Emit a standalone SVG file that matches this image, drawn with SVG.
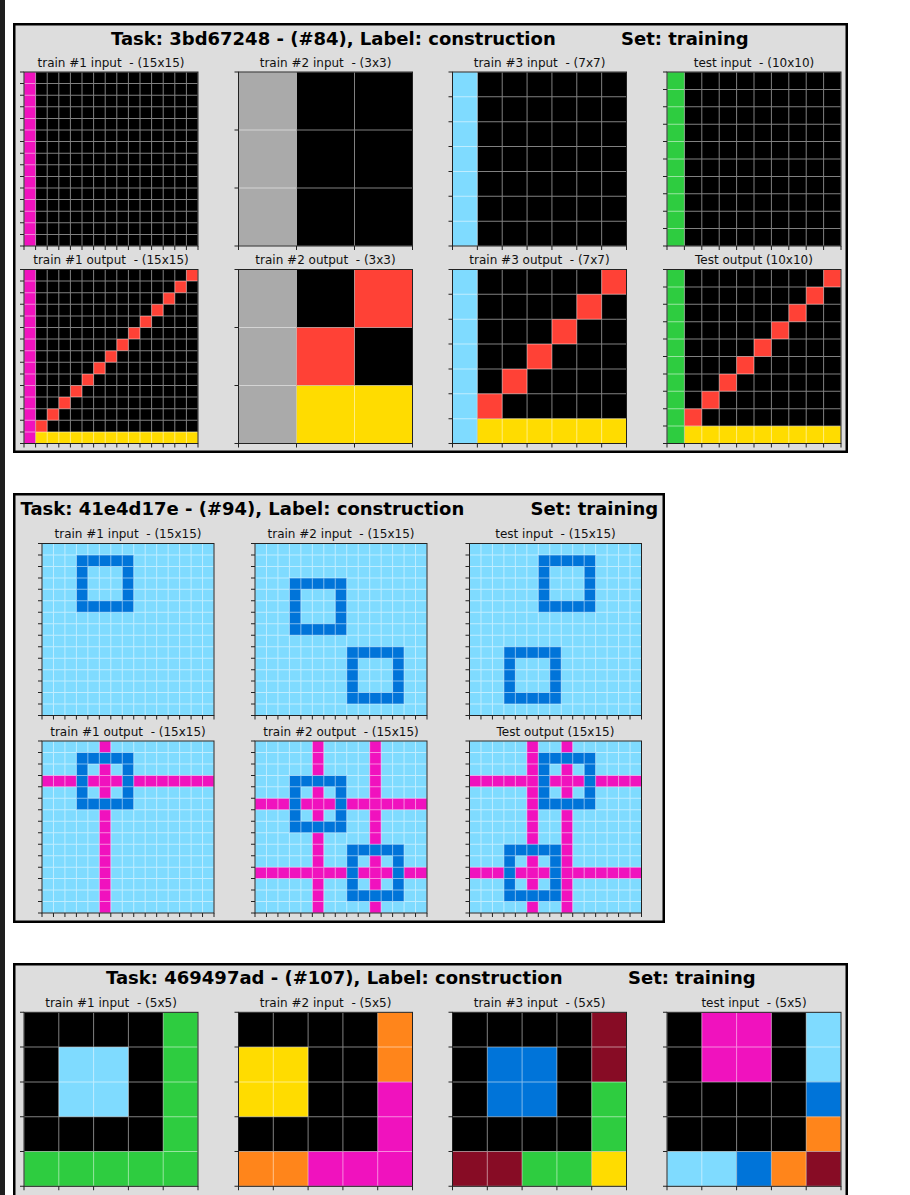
<svg xmlns="http://www.w3.org/2000/svg" xmlns:xlink="http://www.w3.org/1999/xlink" width="910" height="1195" viewBox="0 0 910 1195">
<style>
.k{fill:#000}.m{fill:#F012BE}.r{fill:#FF4136}.y{fill:#FFDC00}.g{fill:#AAAAAA}.c{fill:#7FDBFF}.gr{fill:#2ECC40}.b{fill:#0074D9}.o{fill:#FF851B}.mr{fill:#870C25}
.gl{opacity:.5}.gl line{stroke:#fff;fill:none}
.fr{fill:none;stroke:#222;stroke-width:1}
.tk{stroke:#222;stroke-width:4;fill:none}
.st{font-family:"DejaVu Sans","Liberation Sans",sans-serif;font-size:12px;fill:#111;text-anchor:middle;white-space:pre}
.tt{font-family:"DejaVu Sans","Liberation Sans",sans-serif;font-size:18px;font-weight:bold;fill:#000}
.pn{fill:#dddddd;stroke:#000;stroke-width:2.5}
</style>
<defs>
<g id="c174-15">
<g class="gl"><line x1="-0.5" y1="87" x2="174.5" y2="87" stroke-width="174" stroke-dasharray="1 10.6"/><line x1="87" y1="-0.5" x2="87" y2="174.5" stroke-width="174" stroke-dasharray="1 10.6"/></g>
<rect class="fr" width="174" height="174"/>
<line class="tk" x1="-2" y1="-0.5" x2="-2" y2="174.5" stroke-dasharray="1 10.6"/>
<line class="tk" x1="-0.5" y1="176" x2="174.5" y2="176" stroke-dasharray="1 10.6"/>
</g>
<g id="c174-3">
<g class="gl"><line x1="-0.5" y1="87" x2="174.5" y2="87" stroke-width="174" stroke-dasharray="1 57"/><line x1="87" y1="-0.5" x2="87" y2="174.5" stroke-width="174" stroke-dasharray="1 57"/></g>
<rect class="fr" width="174" height="174"/>
<line class="tk" x1="-2" y1="-0.5" x2="-2" y2="174.5" stroke-dasharray="1 57"/>
<line class="tk" x1="-0.5" y1="176" x2="174.5" y2="176" stroke-dasharray="1 57"/>
</g>
<g id="c174-7">
<g class="gl"><line x1="-0.5" y1="87" x2="174.5" y2="87" stroke-width="174" stroke-dasharray="1 23.857"/><line x1="87" y1="-0.5" x2="87" y2="174.5" stroke-width="174" stroke-dasharray="1 23.857"/></g>
<rect class="fr" width="174" height="174"/>
<line class="tk" x1="-2" y1="-0.5" x2="-2" y2="174.5" stroke-dasharray="1 23.857"/>
<line class="tk" x1="-0.5" y1="176" x2="174.5" y2="176" stroke-dasharray="1 23.857"/>
</g>
<g id="c174-10">
<g class="gl"><line x1="-0.5" y1="87" x2="174.5" y2="87" stroke-width="174" stroke-dasharray="1 16.4"/><line x1="87" y1="-0.5" x2="87" y2="174.5" stroke-width="174" stroke-dasharray="1 16.4"/></g>
<rect class="fr" width="174" height="174"/>
<line class="tk" x1="-2" y1="-0.5" x2="-2" y2="174.5" stroke-dasharray="1 16.4"/>
<line class="tk" x1="-0.5" y1="176" x2="174.5" y2="176" stroke-dasharray="1 16.4"/>
</g>
<g id="c174-5">
<g class="gl"><line x1="-0.5" y1="87" x2="174.5" y2="87" stroke-width="174" stroke-dasharray="1 33.8"/><line x1="87" y1="-0.5" x2="87" y2="174.5" stroke-width="174" stroke-dasharray="1 33.8"/></g>
<rect class="fr" width="174" height="174"/>
<line class="tk" x1="-2" y1="-0.5" x2="-2" y2="174.5" stroke-dasharray="1 33.8"/>
<line class="tk" x1="-0.5" y1="176" x2="174.5" y2="176" stroke-dasharray="1 33.8"/>
</g>
<g id="c172-15">
<g class="gl"><line x1="-0.5" y1="86" x2="172.5" y2="86" stroke-width="172" stroke-dasharray="1 10.4667"/><line x1="86" y1="-0.5" x2="86" y2="172.5" stroke-width="172" stroke-dasharray="1 10.4667"/></g>
<rect class="fr" width="172" height="172"/>
<line class="tk" x1="-2" y1="-0.5" x2="-2" y2="172.5" stroke-dasharray="1 10.4667"/>
<line class="tk" x1="-0.5" y1="174" x2="172.5" y2="174" stroke-dasharray="1 10.4667"/>
</g>
</defs>
<rect width="910" height="1195" fill="#fff"/>
<rect width="5" height="1195" fill="#1e1e1e"/>

<!-- Panel 1 -->
<g id="panel1">
<rect class="pn" x="14.25" y="24.25" width="832.5" height="427.5"/>
<text class="tt" x="111" y="45">Task: 3bd67248 - (#84), Label: construction</text>
<text class="tt" x="621" y="45">Set: training</text>

<g id="p1-train1-input" transform="translate(24 72)">
<text class="st" x="87" y="-5.5">train #1 input  - (15x15)</text>
<g transform="scale(11.6)"><rect class="k" width="15" height="15"/><rect class="m" width="1" height="15"/></g>
<use xlink:href="#c174-15"/>
</g>
<g id="p1-train2-input" transform="translate(238.5 72)">
<text class="st" x="87" y="-5.5">train #2 input  - (3x3)</text>
<g transform="scale(58)"><rect class="k" width="3" height="3"/><rect class="g" width="1" height="3"/></g>
<use xlink:href="#c174-3"/>
</g>
<g id="p1-train3-input" transform="translate(452.5 72)">
<text class="st" x="87" y="-5.5">train #3 input  - (7x7)</text>
<g transform="scale(24.857)"><rect class="k" width="7" height="7"/><rect class="c" width="1" height="7"/></g>
<use xlink:href="#c174-7"/>
</g>
<g id="p1-test-input" transform="translate(667 72)">
<text class="st" x="87" y="-5.5">test input  - (10x10)</text>
<g transform="scale(17.4)"><rect class="k" width="10" height="10"/><rect class="gr" width="1" height="10"/></g>
<use xlink:href="#c174-10"/>
</g>

<g id="p1-train1-output" transform="translate(24 269.5)">
<text class="st" x="87" y="-5.5">train #1 output  - (15x15)</text>
<g transform="scale(11.6)"><rect class="k" width="15" height="15"/><rect class="m" width="1" height="15"/><rect class="y" x="1" y="14" width="14" height="1"/>
<path class="r" d="M14 0h1v1h-1zM13 1h1v1h-1zM12 2h1v1h-1zM11 3h1v1h-1zM10 4h1v1h-1zM9 5h1v1h-1zM8 6h1v1h-1zM7 7h1v1h-1zM6 8h1v1h-1zM5 9h1v1h-1zM4 10h1v1h-1zM3 11h1v1h-1zM2 12h1v1h-1zM1 13h1v1h-1z"/></g>
<use xlink:href="#c174-15"/>
</g>
<g id="p1-train2-output" transform="translate(238.5 269.5)">
<text class="st" x="87" y="-5.5">train #2 output  - (3x3)</text>
<g transform="scale(58)"><rect class="k" width="3" height="3"/><rect class="g" width="1" height="3"/><rect class="r" x="2" y="0" width="1" height="1"/><rect class="r" x="1" y="1" width="1" height="1"/><rect class="y" x="1" y="2" width="2" height="1"/></g>
<use xlink:href="#c174-3"/>
</g>
<g id="p1-train3-output" transform="translate(452.5 269.5)">
<text class="st" x="87" y="-5.5">train #3 output  - (7x7)</text>
<g transform="scale(24.857)"><rect class="k" width="7" height="7"/><rect class="c" width="1" height="7"/><rect class="y" x="1" y="6" width="6" height="1"/>
<path class="r" d="M6 0h1v1h-1zM5 1h1v1h-1zM4 2h1v1h-1zM3 3h1v1h-1zM2 4h1v1h-1zM1 5h1v1h-1z"/></g>
<use xlink:href="#c174-7"/>
</g>
<g id="p1-test-output" transform="translate(667 269.5)">
<text class="st" x="87" y="-5.5">Test output (10x10)</text>
<g transform="scale(17.4)"><rect class="k" width="10" height="10"/><rect class="gr" width="1" height="10"/><rect class="y" x="1" y="9" width="9" height="1"/>
<path class="r" d="M9 0h1v1h-1zM8 1h1v1h-1zM7 2h1v1h-1zM6 3h1v1h-1zM5 4h1v1h-1zM4 5h1v1h-1zM3 6h1v1h-1zM2 7h1v1h-1zM1 8h1v1h-1z"/></g>
<use xlink:href="#c174-10"/>
</g>
</g>

<!-- Panel 2 -->
<g id="panel2">
<rect class="pn" x="14.25" y="494.25" width="649.5" height="427.5"/>
<text class="tt" x="20.5" y="514.5">Task: 41e4d17e - (#94), Label: construction</text>
<text class="tt" x="530.5" y="514.5">Set: training</text>

<g id="p2-train1-input" transform="translate(42 543.5)">
<text class="st" x="86" y="-5.5">train #1 input  - (15x15)</text>
<g transform="scale(11.4667)"><rect class="c" width="15" height="15"/>
<path class="b" fill-rule="evenodd" d="M3 1h5v5h-5zM4 2h3v3h-3z"/></g>
<use xlink:href="#c172-15"/>
</g>
<g id="p2-train2-input" transform="translate(255 543.5)">
<text class="st" x="86" y="-5.5">train #2 input  - (15x15)</text>
<g transform="scale(11.4667)"><rect class="c" width="15" height="15"/>
<path class="b" fill-rule="evenodd" d="M3 3h5v5h-5zM4 4h3v3h-3zM8 9h5v5h-5zM9 10h3v3h-3z"/></g>
<use xlink:href="#c172-15"/>
</g>
<g id="p2-test-input" transform="translate(469.5 543.5)">
<text class="st" x="86" y="-5.5">test input  - (15x15)</text>
<g transform="scale(11.4667)"><rect class="c" width="15" height="15"/>
<path class="b" fill-rule="evenodd" d="M6 1h5v5h-5zM7 2h3v3h-3zM3 9h5v5h-5zM4 10h3v3h-3z"/></g>
<use xlink:href="#c172-15"/>
</g>

<g id="p2-train1-output" transform="translate(42 741)">
<text class="st" x="86" y="-5.5">train #1 output  - (15x15)</text>
<g transform="scale(11.4667)"><rect class="c" width="15" height="15"/>
<rect class="m" x="5" y="0" width="1" height="15"/><rect class="m" x="0" y="3" width="15" height="1"/>
<path class="b" fill-rule="evenodd" d="M3 1h5v5h-5zM4 2h3v3h-3z"/></g>
<use xlink:href="#c172-15"/>
</g>
<g id="p2-train2-output" transform="translate(255 741)">
<text class="st" x="86" y="-5.5">train #2 output  - (15x15)</text>
<g transform="scale(11.4667)"><rect class="c" width="15" height="15"/>
<rect class="m" x="5" y="0" width="1" height="15"/><rect class="m" x="10" y="0" width="1" height="15"/><rect class="m" x="0" y="5" width="15" height="1"/><rect class="m" x="0" y="11" width="15" height="1"/>
<path class="b" fill-rule="evenodd" d="M3 3h5v5h-5zM4 4h3v3h-3zM8 9h5v5h-5zM9 10h3v3h-3z"/></g>
<use xlink:href="#c172-15"/>
</g>
<g id="p2-test-output" transform="translate(469.5 741)">
<text class="st" x="86" y="-5.5">Test output (15x15)</text>
<g transform="scale(11.4667)"><rect class="c" width="15" height="15"/>
<rect class="m" x="5" y="0" width="1" height="15"/><rect class="m" x="8" y="0" width="1" height="15"/><rect class="m" x="0" y="3" width="15" height="1"/><rect class="m" x="0" y="11" width="15" height="1"/>
<path class="b" fill-rule="evenodd" d="M6 1h5v5h-5zM7 2h3v3h-3zM3 9h5v5h-5zM4 10h3v3h-3z"/></g>
<use xlink:href="#c172-15"/>
</g>
</g>

<!-- Panel 3 -->
<g id="panel3">
<rect class="pn" x="14.25" y="964.25" width="832.5" height="400"/>
<text class="tt" x="106" y="984.3">Task: 469497ad - (#107), Label: construction</text>
<text class="tt" x="628" y="984.3">Set: training</text>

<g id="p3-train1-input" transform="translate(24 1012.3)">
<text class="st" x="87" y="-5.5">train #1 input  - (5x5)</text>
<g transform="scale(34.8)"><rect class="k" width="5" height="5"/><rect class="c" x="1" y="1" width="2" height="2"/><rect class="gr" x="4" y="0" width="1" height="5"/><rect class="gr" x="0" y="4" width="5" height="1"/></g>
<use xlink:href="#c174-5"/>
</g>
<g id="p3-train2-input" transform="translate(238.5 1012.3)">
<text class="st" x="87" y="-5.5">train #2 input  - (5x5)</text>
<g transform="scale(34.8)"><rect class="k" width="5" height="5"/><rect class="o" x="4" y="0" width="1" height="2"/><rect class="y" x="0" y="1" width="2" height="2"/><rect class="m" x="4" y="2" width="1" height="3"/><rect class="o" x="0" y="4" width="2" height="1"/><rect class="m" x="2" y="4" width="3" height="1"/></g>
<use xlink:href="#c174-5"/>
</g>
<g id="p3-train3-input" transform="translate(452.5 1012.3)">
<text class="st" x="87" y="-5.5">train #3 input  - (5x5)</text>
<g transform="scale(34.8)"><rect class="k" width="5" height="5"/><rect class="mr" x="4" y="0" width="1" height="2"/><rect class="b" x="1" y="1" width="2" height="2"/><rect class="gr" x="4" y="2" width="1" height="2"/><rect class="mr" x="0" y="4" width="2" height="1"/><rect class="gr" x="2" y="4" width="2" height="1"/><rect class="y" x="4" y="4" width="1" height="1"/></g>
<use xlink:href="#c174-5"/>
</g>
<g id="p3-test-input" transform="translate(667 1012.3)">
<text class="st" x="87" y="-5.5">test input  - (5x5)</text>
<g transform="scale(34.8)"><rect class="k" width="5" height="5"/><rect class="m" x="1" y="0" width="2" height="2"/><rect class="c" x="4" y="0" width="1" height="2"/><rect class="b" x="4" y="2" width="1" height="1"/><rect class="o" x="4" y="3" width="1" height="1"/><rect class="c" x="0" y="4" width="2" height="1"/><rect class="b" x="2" y="4" width="1" height="1"/><rect class="o" x="3" y="4" width="1" height="1"/><rect class="mr" x="4" y="4" width="1" height="1"/></g>
<use xlink:href="#c174-5"/>
</g>
</g>
</svg>
